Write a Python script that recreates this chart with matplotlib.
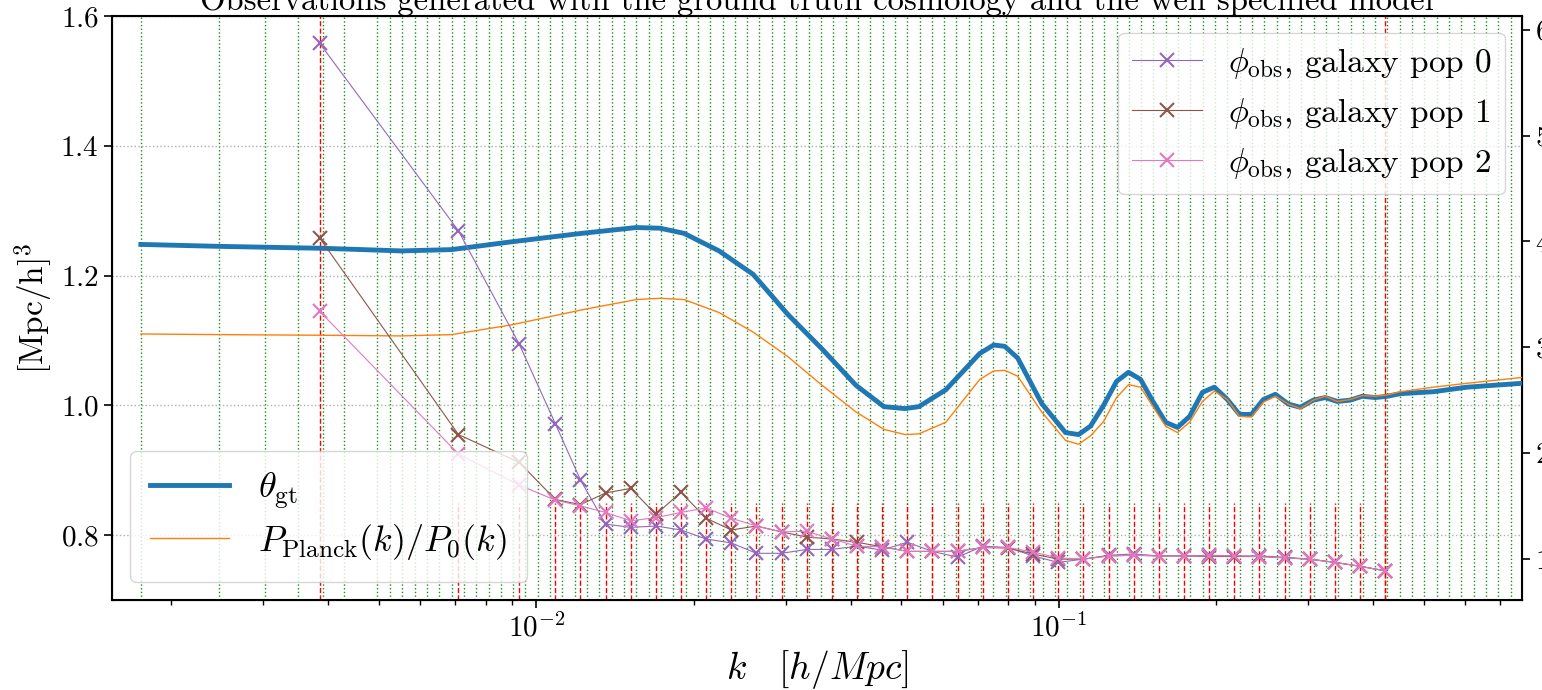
import numpy as np
import matplotlib
matplotlib.use("Agg")
import matplotlib.pyplot as plt

# LaTeX-like look without usetex
plt.rcParams['font.family'] = 'serif'
plt.rcParams['font.serif'] = ['cmr10']
plt.rcParams['mathtext.fontset'] = 'cm'
plt.rcParams['axes.formatter.use_mathtext'] = True

## k grid of the model (fundamental modes at low k, log bins above)
k_f = 0.001749
n_low = [1, 2, 3, 4, 5, 6, 8]
k_grid = np.concatenate([k_f * np.sqrt(n_low),
                         np.logspace(np.log10(3 * k_f), np.log10(3 * k_f) + 0.023576 * 91, 92)])

## smooth curves
k_curve = [0.001749, 0.002477, 0.003914, 0.005520, 0.006878, 0.008958, 0.01219, 0.01553,
           0.01726, 0.01919, 0.02238, 0.02600, 0.03032, 0.03523, 0.04091, 0.04629,
           0.05077, 0.05400, 0.06082, 0.07064, 0.07510, 0.07883, 0.08347, 0.09279,
           0.1031, 0.1092, 0.1151, 0.1219, 0.1291, 0.1361, 0.1435, 0.1513, 0.1602,
           0.1689, 0.1781, 0.1885, 0.1987, 0.2104, 0.2219, 0.2339, 0.2466, 0.2600,
           0.2753, 0.2902, 0.3073, 0.3239, 0.3416, 0.3616, 0.3813, 0.4037, 0.4257,
           0.4508, 0.5212, 0.6053, 0.7713]
theta_gt = [1.248, 1.245, 1.242, 1.238, 1.240, 1.252, 1.265, 1.274, 1.273, 1.265, 1.238,
            1.202, 1.140, 1.087, 1.031, 0.998, 0.995, 0.998, 1.024, 1.080, 1.093, 1.091,
            1.073, 1.003, 0.958, 0.955, 0.968, 1.000, 1.037, 1.051, 1.040, 1.007, 0.974,
            0.966, 0.983, 1.020, 1.028, 1.009, 0.986, 0.986, 1.009, 1.017, 1.002, 0.997,
            1.008, 1.012, 1.006, 1.008, 1.014, 1.012, 1.014, 1.018, 1.021, 1.028, 1.034]
planck_ratio = [1.110, 1.109, 1.108, 1.107, 1.109, 1.124, 1.147, 1.163, 1.165, 1.163, 1.143,
                1.113, 1.075, 1.031, 0.990, 0.963, 0.955, 0.956, 0.974, 1.040, 1.053, 1.054,
                1.045, 0.990, 0.946, 0.940, 0.953, 0.975, 1.012, 1.032, 1.028, 0.999, 0.968,
                0.958, 0.974, 1.006, 1.022, 1.009, 0.983, 0.982, 1.005, 1.014, 1.002, 0.995,
                1.008, 1.014, 1.006, 1.009, 1.015, 1.014, 1.016, 1.021, 1.028, 1.034, 1.043]

## observations for the three galaxy populations
k_obs = [0.003847, 0.007095, 0.009279, 0.01087, 0.01215, 0.01357, 0.01516, 0.01694,
         0.01892, 0.02114, 0.02362, 0.02639, 0.02948, 0.03294, 0.03680, 0.04111,
         0.04593, 0.05132, 0.05733, 0.06405, 0.07156, 0.07995, 0.08932, 0.09981,
         0.1115, 0.1246, 0.1392, 0.1555, 0.1737, 0.1941, 0.2169, 0.2423, 0.2707,
         0.3024, 0.3379, 0.3775, 0.4218]
phi_pop0 = [1.558, 1.269, 1.094, 0.972, 0.885, 0.817, 0.812, 0.814, 0.808, 0.794, 0.788,
            0.772, 0.772, 0.778, 0.778, 0.783, 0.777, 0.789, 0.775, 0.766, 0.783, 0.781,
            0.768, 0.758, 0.763, 0.769, 0.771, 0.768, 0.768, 0.769, 0.768, 0.768, 0.766,
            0.763, 0.758, 0.752, 0.745]
phi_pop1 = [1.258, 0.955, 0.912, 0.855, 0.847, 0.865, 0.872, 0.832, 0.866, 0.826, 0.808,
            0.814, 0.805, 0.797, 0.794, 0.789, 0.782, 0.775, 0.775, 0.775, 0.781, 0.780,
            0.771, 0.763, 0.763, 0.768, 0.769, 0.768, 0.768, 0.767, 0.767, 0.767, 0.765,
            0.763, 0.758, 0.752, 0.745]
phi_pop2 = [1.145, 0.925, 0.877, 0.854, 0.845, 0.835, 0.822, 0.827, 0.835, 0.842, 0.826,
            0.814, 0.805, 0.806, 0.794, 0.783, 0.782, 0.775, 0.775, 0.775, 0.781, 0.781,
            0.774, 0.765, 0.763, 0.768, 0.769, 0.768, 0.768, 0.768, 0.768, 0.767, 0.765,
            0.763, 0.758, 0.752, 0.745]
right_ticks = [1, 2, 3, 4, 5, 6]

fig = plt.figure(figsize=(15.42, 6.9), dpi=100)
ax = fig.add_axes([0.0726, 0.1304, 0.9144, 0.8464])
ax.set_xscale('log')

# model grid and observation scales
for k in k_grid:
    ax.axvline(k, color='green', ls=':', lw=1, alpha=0.9, zorder=0)
for k in k_obs[1:]:
    ax.axvline(k, ymax=0.166, color='red', ls='--', lw=1, zorder=1)
ax.axvline(k_obs[0], color='red', ls='--', lw=1, zorder=1)
ax.axvline(k_obs[-1], color='red', ls='--', lw=1, zorder=1)

l_gt, = ax.plot(k_curve, theta_gt, color='C0', lw=3.5, zorder=3)
l_pl, = ax.plot(k_curve, planck_ratio, color='C1', lw=1, zorder=3)
pops = []
for vals, c in [(phi_pop0, 'C4'), (phi_pop1, 'C5'), (phi_pop2, 'C6')]:
    p, = ax.plot(k_obs, vals, color=c, lw=0.8, marker='x', ms=10, mew=1.5, zorder=4)
    pops.append(p)

ax.set_xlim(0.00154, 0.771)
ax.set_ylim(0.7, 1.6)
ax.set_yticks([0.8, 1.0, 1.2, 1.4, 1.6])
ax.grid(axis='y', color='#b0b0b0', ls=':', lw=1)
ax.tick_params(which='major', labelsize=21, length=6, width=1.2)
ax.tick_params(which='minor', length=3.5, width=1)
for s in ax.spines.values():
    s.set_linewidth(1.5)

ax.set_xlabel(r'$k \quad [h/Mpc]$', fontsize=27, labelpad=4)
ax.set_ylabel(r'$[\mathrm{Mpc/h}]^3$', fontsize=24)
ax.set_title('Observations generated with the ground truth cosmology and the well specified model',
             fontsize=23.5, pad=4)

leg1 = ax.legend([l_gt, l_pl], [r'$\theta_\mathrm{gt}$', r'$P_\mathrm{Planck}(k)/P_0(k)$'],
                 loc='lower left', fontsize=26, borderaxespad=0.5, handlelength=2.2,
                 labelspacing=0.3, borderpad=0.55)
ax.add_artist(leg1)
ax.legend(pops, [r'$\phi_\mathrm{obs}$, galaxy pop %d' % i for i in range(3)],
          loc='upper right', fontsize=24, borderaxespad=0.5, handlelength=2.1,
          labelspacing=0.45)

# right hand axis
ax2 = ax.twinx()
ax2.set_ylim(0.613, 6.13)
ax2.set_yticks(right_ticks)
ax2.tick_params(labelsize=21, length=6, width=1.2)

fig.savefig('out.png', dpi=100)
